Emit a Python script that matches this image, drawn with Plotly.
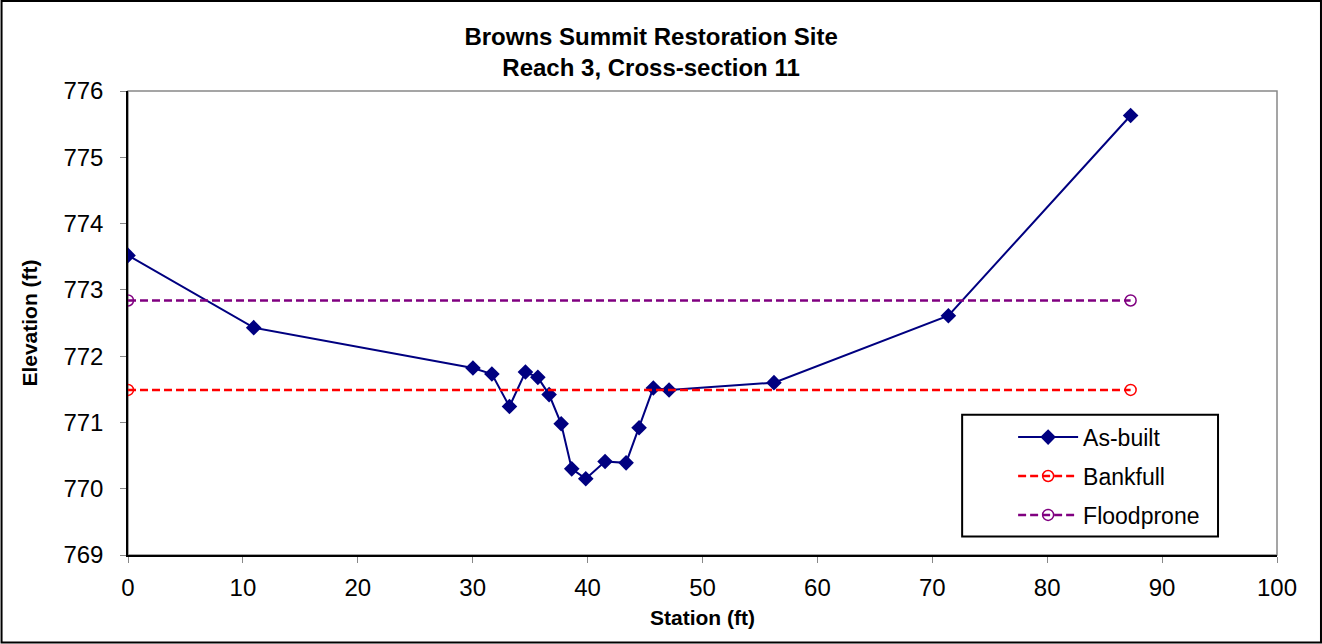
import plotly.graph_objects as go

station = [0, 10.94, 30.02, 31.67, 33.2, 34.59, 35.67, 36.65, 37.70, 38.62, 39.84,
           41.52, 43.35, 44.48, 45.72, 47.09, 56.22, 71.4, 87.26]
elev = [773.52, 772.43, 771.82, 771.73, 771.24, 771.76, 771.68, 771.42, 770.98, 770.30,
        770.15, 770.41, 770.39, 770.92, 771.52, 771.49, 771.60, 772.61, 775.63]
bank_x = [0, 87.26]
bank_y = [771.49, 771.49]
flood_x = [0, 87.26]
flood_y = [772.84, 772.84]

fig = go.Figure()
fig.add_trace(go.Scatter(x=station, y=elev, mode="lines+markers", name="As-built",
                         legendgroup="a",
                         line=dict(color="#000080", width=2),
                         marker=dict(symbol="diamond", size=12, color="#000080")))
fig.add_trace(go.Scatter(x=bank_x, y=bank_y, mode="lines+markers", name="Bankfull",
                         legendgroup="b",
                         line=dict(color="#FF0000", width=2.5, dash="8px,4px"),
                         marker=dict(symbol="circle-open", size=11, color="#FF0000",
                                     line=dict(width=1.5))))
fig.add_trace(go.Scatter(x=flood_x, y=flood_y, mode="lines+markers", name="Floodprone",
                         legendgroup="c",
                         line=dict(color="#800080", width=2.5, dash="8px,4px"),
                         marker=dict(symbol="circle-open", size=11, color="#800080",
                                     line=dict(width=1.5))))

L, R, T, B = 127.5, 45, 91, 88.5
W, H = 1322, 644
pw, ph = W - L - R, H - T - B

def px(x):
    return (x - L) / pw

def py(y):
    return (H - B - y) / ph

fig.update_layout(
    width=W, height=H,
    margin=dict(l=L, r=R, t=T, b=B),
    paper_bgcolor="white", plot_bgcolor="white",
    font=dict(family="Liberation Sans, Arial, sans-serif", color="black", size=24),
    title=dict(text="<b>Browns Summit Restoration Site<br>Reach 3, Cross-section 11</b>",
               x=0.4925, xanchor="center", y=1 - 45 / H, yanchor="middle",
               font=dict(size=24)),
    xaxis=dict(range=[0, 100], dtick=10, showgrid=False, zeroline=False,
               showline=True, linecolor="black", linewidth=1.5,
               ticks="outside", ticklen=6, tickcolor="#888888",
               tickfont=dict(size=24), ticklabelstandoff=4,
               title=dict(text="<b>Station (ft)</b>", font=dict(size=21), standoff=11)),
    yaxis=dict(range=[769, 776], dtick=1, showgrid=False, zeroline=False,
               showline=True, linecolor="black", linewidth=1.5,
               ticks="outside", ticklen=6, tickcolor="#888888",
               tickfont=dict(size=24), ticklabelstandoff=12,
               title=dict(text="<b>Elevation (ft)</b>", font=dict(size=21), standoff=20)),
    legend=dict(x=px(1013), y=py(416), xanchor="left", yanchor="top",
                bgcolor="rgba(0,0,0,0)", borderwidth=0,
                traceorder="grouped", tracegroupgap=6,
                itemwidth=60, font=dict(size=23)),
    showlegend=True,
    shapes=[
        dict(type="rect", xref="paper", yref="paper", x0=0, x1=1, y0=0, y1=1,
             line=dict(color="#888888", width=1.5), layer="below"),
        dict(type="rect", xref="paper", yref="paper", x0=px(962), x1=px(1218),
             y0=py(537), y1=py(415), line=dict(color="black", width=2),
             fillcolor="white", layer="below"),
        dict(type="rect", xref="paper", yref="paper", x0=px(1), x1=px(1321),
             y0=py(643), y1=py(1), line=dict(color="black", width=2)),
    ],
)

fig.write_html("out.html", config={"displayModeBar": False},
               post_script="document.body.style.margin='0';document.body.style.overflow='hidden';")
